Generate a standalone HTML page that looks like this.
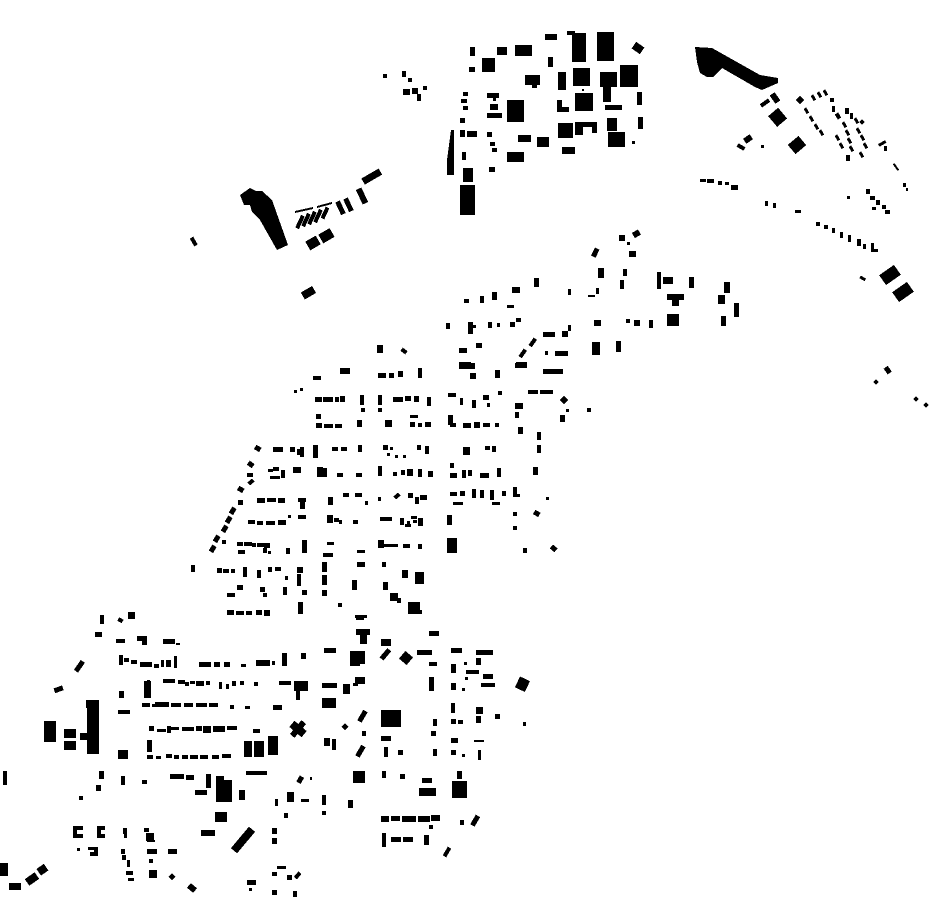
<!DOCTYPE html>
<html><head><meta charset="utf-8"><style>html,body{margin:0;padding:0;background:#fff}svg{display:block}</style></head>
<body>
<svg width="930" height="924" viewBox="0 0 930 924" xmlns="http://www.w3.org/2000/svg" fill="#000" shape-rendering="crispEdges">
<!-- Top-left industrial -->
<polygon points="240,195 250,188 256,191 262,191 272,200 288,245 277,250 260,220 252,212 250,205 244,205"/>
<polygon points="295,211 313,207 313,209 295,213"/><polygon points="317,206 332,202 332,204 317,208"/>
<g transform="rotate(25 300 222)"><rect x="298" y="215" width="4" height="14"/></g>
<g transform="rotate(25 306 220)"><rect x="304" y="213" width="4" height="14"/></g>
<g transform="rotate(25 312 218)"><rect x="310" y="211" width="4" height="14"/></g>
<g transform="rotate(25 318 216)"><rect x="316" y="209" width="4" height="14"/></g>
<g transform="rotate(25 325 213)"><rect x="323" y="207" width="4" height="12"/></g>
<g transform="rotate(-30 313 243)"><rect x="307" y="238" width="12" height="10"/></g>
<g transform="rotate(-30 326 236)"><rect x="320" y="231" width="13" height="10"/></g>
<g transform="rotate(-25 340 208)"><rect x="338" y="201" width="5" height="14"/></g>
<g transform="rotate(-25 348 205)"><rect x="346" y="198" width="5" height="14"/></g>
<g transform="rotate(-25 362 196)"><rect x="359" y="188" width="6" height="16"/></g>
<g transform="rotate(-30 372 177)"><rect x="362" y="173" width="20" height="7"/></g>
<g transform="rotate(-30 194 242)"><rect x="192" y="237" width="4" height="9"/></g>
<g transform="rotate(-30 308 293)"><rect x="302" y="289" width="13" height="8"/></g>
<rect x="383" y="74" width="4" height="4"/><rect x="402" y="71" width="4" height="6"/><rect x="408" y="78" width="4" height="4"/><rect x="403" y="89" width="7" height="6"/><rect x="412" y="88" width="6" height="6"/><rect x="417" y="94" width="4" height="7"/><rect x="423" y="86" width="4" height="4"/>
<!-- Top industrial cluster -->
<rect x="545" y="34" width="12" height="6"/><rect x="567" y="31" width="8" height="4"/><rect x="572" y="33" width="14" height="29"/><rect x="597" y="32" width="17" height="29"/>
<g transform="rotate(35 638 48)"><rect x="633" y="44" width="10" height="8"/></g>
<rect x="470" y="47" width="5" height="9"/><rect x="497" y="47" width="10" height="8"/><rect x="515" y="45" width="17" height="11"/><rect x="548" y="57" width="5" height="10"/><rect x="482" y="58" width="13" height="14"/><rect x="469" y="67" width="6" height="5"/>
<rect x="525" y="75" width="15" height="10"/><rect x="532" y="83" width="5" height="5"/><rect x="558" y="72" width="8" height="18"/><rect x="573" y="68" width="17" height="18"/><rect x="600" y="72" width="17" height="15"/><rect x="603" y="87" width="8" height="15"/><rect x="620" y="65" width="18" height="22"/><rect x="637" y="92" width="5" height="13"/><rect x="582" y="89" width="2" height="2"/>
<rect x="557" y="100" width="5" height="12"/><rect x="557" y="107" width="12" height="5"/><rect x="575" y="93" width="18" height="18"/><rect x="605" y="105" width="17" height="5"/>
<rect x="463" y="92" width="5" height="4"/><rect x="461" y="99" width="6" height="4"/><rect x="463" y="106" width="5" height="4"/><rect x="487" y="93" width="12" height="5"/><rect x="493" y="98" width="3" height="3"/><rect x="490" y="104" width="8" height="6"/><rect x="487" y="113" width="15" height="5"/><rect x="507" y="100" width="17" height="22"/><rect x="460" y="118" width="5" height="5"/>
<rect x="558" y="123" width="15" height="15"/><rect x="575" y="122" width="8" height="13"/><rect x="583" y="122" width="14" height="5"/><rect x="592" y="122" width="5" height="11"/><rect x="607" y="118" width="10" height="13"/><rect x="608" y="132" width="17" height="15"/><rect x="638" y="117" width="5" height="12"/><rect x="632" y="141" width="3" height="3"/>
<rect x="460" y="130" width="5" height="7"/><rect x="467" y="131" width="10" height="6"/><rect x="487" y="132" width="5" height="5"/><rect x="518" y="135" width="13" height="7"/><rect x="537" y="137" width="12" height="10"/><rect x="562" y="147" width="13" height="7"/><rect x="507" y="152" width="17" height="10"/><rect x="490" y="142" width="5" height="4"/><rect x="492" y="148" width="5" height="4"/>
<polygon points="451,130 454,130 454,175 447,175 447,160"/><rect x="462" y="152" width="4" height="8"/><rect x="489" y="167" width="6" height="5"/><rect x="463" y="168" width="10" height="14"/><rect x="460" y="185" width="15" height="30"/>
<!-- Top right -->
<polygon points="695,47 712,48 760,75 778,78 778,83 762,90 755,87 722,68 713,77 707,77 700,73 697,62"/>
<g transform="rotate(-35 765 103)"><rect x="760" y="101" width="10" height="4"/></g>
<g transform="rotate(-35 775 98)"><rect x="772" y="93" width="6" height="10"/></g>
<g transform="rotate(-40 778 117)"><rect x="771" y="110" width="13" height="14"/></g>
<g transform="rotate(-40 797 145)"><rect x="790" y="139" width="14" height="12"/></g>
<g transform="rotate(-35 748 139)"><rect x="744" y="136" width="8" height="6"/></g>
<g transform="rotate(-60 741 147)"><rect x="739" y="143" width="4" height="8"/></g>
<rect x="761" y="145" width="3" height="3"/>
<g transform="rotate(45 800 100)"><rect x="797" y="97" width="6" height="6"/></g>
<g id="dr">
<rect x="805" y="108" width="3" height="6" transform="rotate(-30 806 111)"/><rect x="810" y="116" width="3" height="6" transform="rotate(-30 811 119)"/><rect x="815" y="124" width="3" height="6" transform="rotate(-30 816 127)"/><rect x="820" y="130" width="3" height="6" transform="rotate(-30 821 133)"/>
<rect x="812" y="95" width="3" height="6" transform="rotate(-30 813 98)"/><rect x="818" y="92" width="3" height="6" transform="rotate(-30 819 95)"/><rect x="824" y="90" width="3" height="6" transform="rotate(-30 825 93)"/><rect x="830" y="98" width="4" height="4"/>
<rect x="832" y="106" width="3" height="6"/><rect x="836" y="113" width="4" height="6" transform="rotate(-30 838 116)"/><rect x="843" y="122" width="3" height="6" transform="rotate(-30 844 125)"/><rect x="846" y="130" width="3" height="6" transform="rotate(-30 847 133)"/><rect x="848" y="138" width="3" height="6" transform="rotate(-30 849 141)"/><rect x="850" y="146" width="3" height="6" transform="rotate(-30 851 149)"/><rect x="846" y="155" width="4" height="6"/>
<rect x="845" y="108" width="4" height="6"/><rect x="850" y="113" width="3" height="6"/><rect x="855" y="118" width="3" height="6" transform="rotate(-30 856 121)"/><rect x="857" y="128" width="3" height="6" transform="rotate(-30 858 131)"/><rect x="861" y="135" width="3" height="6" transform="rotate(-30 862 138)"/><rect x="864" y="143" width="3" height="6" transform="rotate(-30 865 146)"/><rect x="836" y="135" width="3" height="6" transform="rotate(-30 837 138)"/><rect x="840" y="143" width="3" height="6" transform="rotate(-30 841 146)"/><rect x="860" y="152" width="3" height="6" transform="rotate(-30 861 155)"/>
</g>
<rect x="860" y="120" width="4" height="4" transform="rotate(45 862 122)"/><rect x="878" y="142" width="8" height="3" transform="rotate(-30 882 143)"/><rect x="884" y="146" width="3" height="5"/><rect x="895" y="163" width="2" height="8" transform="rotate(-35 896 167)"/><rect x="903" y="183" width="3" height="4"/><rect x="906" y="188" width="2" height="3"/>
<rect x="700" y="179" width="6" height="3"/><rect x="707" y="179" width="7" height="4"/><rect x="718" y="181" width="4" height="4"/><rect x="725" y="182" width="4" height="3"/><rect x="731" y="185" width="7" height="5"/>
<rect x="765" y="201" width="3" height="5"/><rect x="773" y="203" width="3" height="5"/><rect x="795" y="210" width="6" height="3"/><rect x="816" y="222" width="4" height="4"/><rect x="824" y="225" width="4" height="4"/><rect x="832" y="228" width="3" height="5"/><rect x="840" y="232" width="3" height="6"/><rect x="848" y="235" width="3" height="7"/><rect x="857" y="239" width="4" height="7"/><rect x="863" y="244" width="3" height="5"/><rect x="871" y="243" width="3" height="9"/><rect x="871" y="249" width="7" height="3"/>
<rect x="847" y="196" width="3" height="3"/><rect x="866" y="189" width="4" height="5"/><rect x="870" y="196" width="5" height="4"/><rect x="876" y="200" width="4" height="5"/><rect x="882" y="205" width="4" height="4"/><rect x="885" y="210" width="5" height="4"/><rect x="872" y="207" width="4" height="3"/>
<g transform="rotate(-35 890 275)"><rect x="881" y="269" width="18" height="12"/></g>
<g transform="rotate(-35 903 292)"><rect x="894" y="286" width="18" height="12"/></g>
<rect x="860" y="277" width="6" height="3" transform="rotate(30 863 278)"/>
<rect x="885" y="367" width="5" height="7" transform="rotate(-35 887 370)"/><rect x="874" y="380" width="4" height="4" transform="rotate(45 876 382)"/><rect x="914" y="397" width="4" height="4" transform="rotate(45 916 399)"/><rect x="924" y="403" width="4" height="4" transform="rotate(45 926 405)"/>
<!-- mid-right scattered -->
<rect x="619" y="235" width="6" height="6"/><rect x="627" y="242" width="3" height="3"/><rect x="633" y="231" width="7" height="6" transform="rotate(-30 636 234)"/><rect x="593" y="248" width="5" height="9" transform="rotate(25 595 252)"/><rect x="629" y="251" width="7" height="6"/>
<rect x="598" y="268" width="6" height="10"/><rect x="623" y="269" width="4" height="7"/><rect x="620" y="280" width="4" height="9"/><rect x="657" y="272" width="4" height="17"/><rect x="663" y="277" width="10" height="7"/><rect x="689" y="277" width="5" height="11"/>
<rect x="667" y="294" width="17" height="6"/><rect x="672" y="300" width="7" height="6"/><rect x="667" y="314" width="12" height="12"/><rect x="724" y="282" width="6" height="11"/><rect x="718" y="295" width="7" height="9"/><rect x="734" y="303" width="5" height="14"/><rect x="721" y="316" width="5" height="10"/>
<rect x="534" y="278" width="5" height="9"/><rect x="512" y="287" width="8" height="6"/><rect x="492" y="292" width="5" height="8"/><rect x="480" y="296" width="4" height="7"/><rect x="464" y="299" width="5" height="4"/><rect x="507" y="305" width="7" height="3"/>
<rect x="568" y="289" width="3" height="6"/><rect x="596" y="288" width="3" height="6"/><rect x="588" y="295" width="7" height="2"/>
<rect x="446" y="323" width="4" height="6"/><rect x="468" y="322" width="5" height="12"/><rect x="468" y="325" width="8" height="3"/><rect x="488" y="322" width="4" height="6"/><rect x="497" y="323" width="3" height="4"/><rect x="510" y="322" width="5" height="5"/><rect x="516" y="318" width="5" height="4"/>
<rect x="594" y="320" width="7" height="6"/><rect x="626" y="319" width="4" height="4"/><rect x="634" y="320" width="6" height="6"/><rect x="649" y="320" width="4" height="8"/>
<rect x="543" y="332" width="12" height="5"/><rect x="562" y="331" width="6" height="6"/><rect x="568" y="325" width="3" height="6"/>
<rect x="531" y="338" width="4" height="9" transform="rotate(35 533 342)"/><rect x="521" y="349" width="4" height="9" transform="rotate(35 523 353)"/>
<rect x="459" y="348" width="8" height="5"/><rect x="476" y="343" width="6" height="5"/><rect x="545" y="351" width="3" height="4"/><rect x="555" y="351" width="13" height="5"/><rect x="592" y="342" width="8" height="13"/><rect x="616" y="341" width="5" height="11"/>
<rect x="459" y="362" width="12" height="3"/><rect x="516" y="362" width="11" height="3"/>
<!-- middle residential (zoom2) -->
<rect x="377" y="345" width="6" height="8"/><rect x="401" y="349" width="6" height="4" transform="rotate(35 404 351)"/>
<rect x="459" y="363" width="16" height="6"/><rect x="470" y="373" width="6" height="6"/><rect x="495" y="370" width="5" height="8"/><rect x="515" y="363" width="12" height="5"/><rect x="543" y="369" width="20" height="5"/>
<rect x="313" y="376" width="8" height="4"/><rect x="340" y="368" width="10" height="6"/><rect x="378" y="373" width="8" height="5"/><rect x="389" y="373" width="5" height="5"/><rect x="398" y="371" width="5" height="6"/><rect x="418" y="368" width="4" height="10"/>
<rect x="294" y="390" width="3" height="3"/><rect x="300" y="388" width="3" height="3"/>
<rect x="315" y="397" width="7" height="5"/><rect x="323" y="397" width="10" height="5"/><rect x="335" y="397" width="4" height="5"/><rect x="340" y="396" width="5" height="6"/><rect x="360" y="395" width="4" height="10"/><rect x="378" y="395" width="4" height="10"/><rect x="393" y="397" width="10" height="5"/><rect x="405" y="396" width="6" height="5"/><rect x="414" y="396" width="5" height="6"/><rect x="427" y="397" width="4" height="9"/>
<rect x="361" y="408" width="4" height="4"/><rect x="378" y="408" width="4" height="4"/>
<rect x="448" y="393" width="8" height="4"/><rect x="460" y="398" width="3" height="7"/><rect x="472" y="400" width="4" height="8"/><rect x="483" y="395" width="6" height="5"/><rect x="487" y="403" width="3" height="4"/><rect x="498" y="391" width="4" height="4"/>
<rect x="528" y="390" width="10" height="4"/><rect x="540" y="390" width="13" height="4"/><rect x="561" y="397" width="6" height="6" transform="rotate(45 564 400)"/><rect x="566" y="409" width="3" height="3"/><rect x="587" y="408" width="4" height="4"/><rect x="515" y="403" width="8" height="6"/>
<rect x="316" y="414" width="5" height="5"/><rect x="316" y="423" width="6" height="5"/><rect x="324" y="424" width="9" height="4"/><rect x="335" y="424" width="7" height="4"/><rect x="357" y="420" width="5" height="7"/><rect x="385" y="420" width="7" height="7"/><rect x="410" y="415" width="8" height="3"/><rect x="410" y="422" width="5" height="5"/><rect x="418" y="423" width="4" height="4"/><rect x="425" y="422" width="6" height="5"/>
<rect x="448" y="415" width="5" height="10"/><rect x="450" y="423" width="6" height="4"/><rect x="463" y="423" width="8" height="5"/><rect x="474" y="422" width="6" height="6"/><rect x="483" y="423" width="7" height="4"/><rect x="495" y="423" width="4" height="4"/>
<rect x="515" y="412" width="4" height="6"/><rect x="518" y="427" width="5" height="7"/><rect x="537" y="432" width="4" height="8"/><rect x="537" y="445" width="4" height="8"/><rect x="533" y="467" width="5" height="8"/><rect x="560" y="415" width="5" height="7"/>
<rect x="255" y="446" width="6" height="5" transform="rotate(30 258 448)"/><rect x="273" y="447" width="10" height="5"/><rect x="290" y="447" width="5" height="5"/><rect x="297" y="449" width="6" height="6"/><rect x="300" y="447" width="4" height="10"/><rect x="313" y="445" width="5" height="13"/><rect x="332" y="447" width="6" height="4"/><rect x="341" y="447" width="6" height="4"/><rect x="358" y="445" width="4" height="7"/>
<rect x="383" y="445" width="5" height="5"/><rect x="387" y="453" width="3" height="3"/><rect x="395" y="455" width="3" height="3"/><rect x="403" y="455" width="3" height="3"/><rect x="390" y="447" width="3" height="3"/><rect x="417" y="445" width="4" height="5"/><rect x="425" y="446" width="4" height="8"/>
<rect x="463" y="447" width="3" height="8"/><rect x="466" y="447" width="4" height="8"/><rect x="485" y="446" width="5" height="4"/><rect x="492" y="446" width="4" height="6"/>
<rect x="247" y="473" width="6" height="4"/><rect x="248" y="462" width="6" height="5" transform="rotate(35 251 464)"/><rect x="268" y="469" width="5" height="3"/><rect x="273" y="467" width="6" height="4"/><rect x="270" y="476" width="10" height="3"/><rect x="281" y="470" width="4" height="8"/><rect x="293" y="467" width="8" height="6"/><rect x="317" y="467" width="6" height="10"/><rect x="323" y="468" width="4" height="9"/><rect x="337" y="473" width="6" height="4"/><rect x="356" y="473" width="6" height="4"/>
<rect x="378" y="466" width="4" height="10"/><rect x="393" y="472" width="4" height="4"/><rect x="401" y="470" width="4" height="5"/><rect x="407" y="469" width="6" height="7"/><rect x="418" y="469" width="4" height="8"/><rect x="428" y="471" width="5" height="6"/>
<rect x="450" y="463" width="4" height="5"/><rect x="450" y="473" width="7" height="5"/><rect x="462" y="470" width="4" height="8"/><rect x="468" y="470" width="4" height="6"/><rect x="480" y="473" width="9" height="5"/><rect x="497" y="468" width="4" height="9"/>
<rect x="238" y="487" width="6" height="5" transform="rotate(30 241 489)"/><rect x="257" y="498" width="8" height="5"/><rect x="267" y="498" width="9" height="4"/><rect x="278" y="498" width="7" height="5"/><rect x="298" y="498" width="8" height="4"/><rect x="300" y="502" width="5" height="7"/><rect x="328" y="497" width="5" height="8"/><rect x="343" y="493" width="6" height="4"/><rect x="355" y="493" width="7" height="4"/><rect x="365" y="501" width="3" height="4"/><rect x="378" y="497" width="3" height="4"/><rect x="394" y="494" width="6" height="4" transform="rotate(-40 397 496)"/><rect x="408" y="493" width="5" height="5"/><rect x="415" y="497" width="4" height="7"/><rect x="420" y="495" width="7" height="5"/>
<rect x="450" y="492" width="7" height="4"/><rect x="460" y="491" width="5" height="5"/><rect x="472" y="489" width="4" height="9"/><rect x="480" y="490" width="4" height="8"/><rect x="490" y="490" width="4" height="10"/><rect x="502" y="491" width="4" height="5"/><rect x="453" y="502" width="10" height="3"/><rect x="492" y="502" width="8" height="3"/><rect x="513" y="487" width="4" height="10"/><rect x="513" y="494" width="7" height="3"/><rect x="546" y="497" width="3" height="3"/>
<rect x="248" y="520" width="7" height="4"/><rect x="257" y="521" width="6" height="4"/><rect x="266" y="521" width="9" height="4"/><rect x="278" y="520" width="8" height="5"/><rect x="288" y="515" width="3" height="3"/><rect x="298" y="515" width="8" height="4"/><rect x="327" y="515" width="6" height="8"/><rect x="334" y="518" width="5" height="4"/><rect x="339" y="520" width="3" height="4"/><rect x="353" y="520" width="5" height="4"/><rect x="380" y="517" width="12" height="4"/><rect x="400" y="518" width="4" height="7"/><rect x="407" y="521" width="3" height="3"/><rect x="411" y="516" width="6" height="3"/><rect x="413" y="520" width="4" height="3"/><rect x="418" y="518" width="5" height="8"/><rect x="405" y="524" width="6" height="3"/><rect x="447" y="515" width="5" height="10"/>
<rect x="513" y="512" width="4" height="4"/><rect x="513" y="526" width="4" height="4"/><rect x="534" y="511" width="6" height="5" transform="rotate(30 537 513)"/>
<rect x="237" y="542" width="6" height="4"/><rect x="244" y="542" width="8" height="4"/><rect x="252" y="543" width="4" height="4"/><rect x="257" y="543" width="7" height="4"/><rect x="264" y="543" width="6" height="5"/><rect x="238" y="550" width="7" height="4"/><rect x="263" y="548" width="4" height="5"/><rect x="268" y="551" width="3" height="3"/><rect x="286" y="548" width="4" height="6"/><rect x="302" y="540" width="5" height="13"/><rect x="327" y="542" width="7" height="3"/><rect x="323" y="553" width="10" height="4"/><rect x="357" y="550" width="8" height="3"/><rect x="378" y="540" width="6" height="8"/><rect x="384" y="544" width="14" height="3"/><rect x="403" y="544" width="7" height="4"/><rect x="418" y="544" width="4" height="5"/><rect x="447" y="538" width="10" height="15"/><rect x="523" y="548" width="4" height="5"/><rect x="551" y="546" width="6" height="5" transform="rotate(40 554 548)"/>
<rect x="209" y="547" width="7" height="5" transform="rotate(-60 212 549)"/><rect x="213" y="537" width="7" height="5" transform="rotate(-60 216 539)"/><rect x="221" y="527" width="7" height="5" transform="rotate(-60 224 529)"/><rect x="225" y="518" width="7" height="5" transform="rotate(-60 228 520)"/><rect x="229" y="509" width="7" height="5" transform="rotate(-60 232 511)"/><rect x="238" y="500" width="5" height="5"/><rect x="222" y="540" width="4" height="4"/><rect x="248" y="480" width="6" height="4" transform="rotate(-40 251 482)"/>
<rect x="191" y="565" width="4" height="7"/><rect x="217" y="568" width="5" height="5"/><rect x="223" y="569" width="6" height="4"/><rect x="231" y="569" width="4" height="4"/><rect x="243" y="567" width="4" height="10"/><rect x="257" y="570" width="4" height="8"/><rect x="268" y="567" width="4" height="5"/><rect x="275" y="567" width="6" height="4"/><rect x="285" y="576" width="3" height="4"/><rect x="297" y="567" width="6" height="6"/><rect x="297" y="574" width="4" height="12"/><rect x="322" y="562" width="5" height="10"/><rect x="322" y="575" width="5" height="10"/><rect x="322" y="590" width="5" height="6"/><rect x="352" y="580" width="5" height="10"/><rect x="357" y="562" width="8" height="5"/><rect x="382" y="562" width="4" height="5"/><rect x="383" y="582" width="5" height="8"/><rect x="402" y="570" width="6" height="8"/><rect x="415" y="572" width="9" height="12"/><rect x="390" y="593" width="8" height="8"/><rect x="397" y="598" width="4" height="5"/><rect x="408" y="602" width="12" height="12"/>
<rect x="227" y="593" width="8" height="4"/><rect x="237" y="585" width="6" height="5"/><rect x="260" y="587" width="5" height="5"/><rect x="263" y="593" width="4" height="4"/><rect x="283" y="587" width="4" height="8"/><rect x="302" y="590" width="5" height="5"/><rect x="298" y="602" width="5" height="12"/><rect x="227" y="610" width="7" height="5"/><rect x="236" y="611" width="8" height="4"/><rect x="246" y="611" width="6" height="4"/><rect x="256" y="610" width="6" height="5"/><rect x="264" y="610" width="6" height="6"/><rect x="338" y="603" width="4" height="4"/><rect x="355" y="615" width="12" height="3"/>
<!-- Lower region (zoom3) -->
<rect x="100" y="615" width="4" height="9"/><rect x="118" y="618" width="5" height="4" transform="rotate(30 120 620)"/><rect x="128" y="612" width="7" height="7"/>
<rect x="95" y="632" width="7" height="5"/><rect x="116" y="639" width="9" height="4"/><rect x="137" y="636" width="10" height="5"/><rect x="142" y="640" width="5" height="5"/><rect x="163" y="639" width="12" height="5"/><rect x="176" y="643" width="4" height="2"/>
<rect x="356" y="617" width="8" height="3"/><rect x="356" y="629" width="14" height="6"/><rect x="360" y="629" width="7" height="15"/><rect x="410" y="610" width="12" height="4"/><rect x="429" y="631" width="10" height="5"/>
<rect x="77" y="660" width="5" height="12" transform="rotate(35 79 666)"/>
<rect x="119" y="655" width="4" height="10"/><rect x="124" y="658" width="5" height="4"/><rect x="131" y="660" width="6" height="4"/><rect x="140" y="662" width="12" height="5"/><rect x="154" y="664" width="5" height="4"/><rect x="161" y="660" width="3" height="7"/><rect x="166" y="660" width="5" height="7"/><rect x="174" y="656" width="3" height="12"/>
<rect x="199" y="662" width="12" height="5"/><rect x="214" y="662" width="6" height="5"/><rect x="224" y="662" width="6" height="5"/><rect x="241" y="664" width="5" height="3"/><rect x="256" y="660" width="14" height="6"/><rect x="272" y="661" width="3" height="4"/><rect x="282" y="653" width="5" height="13"/><rect x="301" y="653" width="5" height="6"/>
<rect x="324" y="648" width="12" height="5"/><rect x="350" y="651" width="10" height="15"/><rect x="350" y="651" width="15" height="13"/><rect x="381" y="639" width="10" height="7"/><rect x="383" y="648" width="5" height="12" transform="rotate(40 385 654)"/><rect x="401" y="653" width="10" height="10" transform="rotate(40 406 658)"/><rect x="417" y="650" width="15" height="5"/><rect x="429" y="662" width="8" height="4"/><rect x="429" y="677" width="5" height="14"/><rect x="355" y="677" width="10" height="7"/><rect x="353" y="683" width="5" height="3"/>
<rect x="451" y="648" width="11" height="5"/><rect x="451" y="664" width="5" height="9"/><rect x="464" y="662" width="3" height="3"/><rect x="466" y="670" width="13" height="4"/><rect x="476" y="650" width="17" height="5"/><rect x="476" y="658" width="5" height="7"/><rect x="483" y="674" width="10" height="5"/><rect x="465" y="677" width="3" height="3"/><rect x="481" y="683" width="14" height="4"/><rect x="451" y="683" width="5" height="7"/><rect x="462" y="688" width="3" height="3"/>
<rect x="517" y="678" width="11" height="12" transform="rotate(25 522 684)"/>
<rect x="54" y="687" width="9" height="5" transform="rotate(-20 58 689)"/>
<rect x="87" y="700" width="12" height="54"/><rect x="86" y="700" width="3" height="8"/><rect x="44" y="721" width="12" height="21"/><rect x="64" y="729" width="12" height="9"/><rect x="64" y="741" width="12" height="9"/><rect x="80" y="733" width="8" height="7"/>
<rect x="118" y="710" width="12" height="4"/><rect x="142" y="703" width="8" height="4"/><rect x="152" y="704" width="5" height="3"/><rect x="155" y="702" width="14" height="5"/><rect x="171" y="703" width="10" height="4"/><rect x="184" y="703" width="9" height="4"/><rect x="196" y="703" width="11" height="4"/><rect x="209" y="703" width="9" height="4"/><rect x="230" y="705" width="4" height="4"/><rect x="245" y="706" width="5" height="3"/><rect x="273" y="705" width="9" height="5"/>
<rect x="119" y="691" width="5" height="7"/><rect x="144" y="681" width="7" height="17"/><rect x="147" y="680" width="3" height="2"/><rect x="163" y="679" width="12" height="4"/><rect x="178" y="680" width="7" height="4"/><rect x="185" y="682" width="4" height="4"/><rect x="190" y="681" width="5" height="3"/><rect x="196" y="681" width="8" height="5"/><rect x="206" y="681" width="4" height="4"/><rect x="219" y="682" width="3" height="7"/><rect x="226" y="684" width="3" height="5"/><rect x="232" y="681" width="4" height="5"/><rect x="240" y="681" width="4" height="4"/><rect x="254" y="682" width="4" height="4"/><rect x="279" y="681" width="12" height="4"/><rect x="294" y="681" width="14" height="10"/><rect x="296" y="690" width="4" height="10"/>
<rect x="322" y="683" width="15" height="5"/><rect x="322" y="698" width="14" height="10"/><rect x="343" y="684" width="7" height="10"/>
<rect x="149" y="726" width="5" height="5"/><rect x="157" y="729" width="9" height="3"/><rect x="167" y="726" width="4" height="7"/><rect x="171" y="727" width="8" height="3"/><rect x="182" y="727" width="7" height="4"/><rect x="189" y="727" width="5" height="4"/><rect x="196" y="726" width="6" height="5"/><rect x="203" y="726" width="8" height="7"/><rect x="213" y="726" width="12" height="6"/><rect x="227" y="726" width="10" height="4"/><rect x="253" y="729" width="7" height="4"/>
<g transform="rotate(40 298 729)"><rect x="290" y="725" width="16" height="8"/><rect x="295" y="720" width="6" height="18"/></g>
<rect x="360" y="710" width="5" height="12" transform="rotate(30 362 716)"/><rect x="343" y="724" width="5" height="5" transform="rotate(45 345 726)"/><rect x="362" y="731" width="4" height="5"/><rect x="358" y="745" width="5" height="12" transform="rotate(30 360 751)"/><rect x="324" y="738" width="6" height="8"/><rect x="332" y="739" width="4" height="11"/>
<rect x="381" y="710" width="20" height="17"/><rect x="381" y="736" width="10" height="5"/><rect x="384" y="747" width="4" height="10"/><rect x="398" y="750" width="5" height="5"/>
<rect x="433" y="719" width="4" height="7"/><rect x="431" y="731" width="5" height="5"/><rect x="433" y="749" width="4" height="7"/>
<rect x="451" y="703" width="4" height="10"/><rect x="451" y="719" width="5" height="5"/><rect x="458" y="720" width="5" height="4"/><rect x="476" y="707" width="7" height="7"/><rect x="476" y="716" width="5" height="7"/><rect x="495" y="714" width="5" height="5"/><rect x="451" y="738" width="7" height="5"/><rect x="474" y="740" width="10" height="2"/><rect x="478" y="750" width="3" height="10"/><rect x="451" y="750" width="5" height="5"/><rect x="462" y="754" width="3" height="3"/><rect x="523" y="722" width="3" height="4"/>
<rect x="118" y="750" width="10" height="9"/><rect x="147" y="740" width="5" height="12"/><rect x="147" y="755" width="6" height="4"/><rect x="156" y="756" width="5" height="3"/><rect x="166" y="754" width="6" height="4"/><rect x="174" y="755" width="5" height="4"/><rect x="182" y="755" width="6" height="4"/><rect x="190" y="755" width="8" height="4"/><rect x="200" y="755" width="8" height="4"/><rect x="212" y="755" width="7" height="4"/><rect x="222" y="754" width="9" height="4"/><rect x="244" y="741" width="8" height="16"/><rect x="254" y="741" width="10" height="16"/><rect x="268" y="736" width="10" height="19"/>
<rect x="3" y="771" width="4" height="14"/><rect x="99" y="771" width="5" height="8"/><rect x="96" y="785" width="5" height="6"/><rect x="79" y="796" width="4" height="4"/><rect x="121" y="776" width="4" height="9"/><rect x="142" y="780" width="5" height="4"/><rect x="170" y="774" width="14" height="5"/><rect x="186" y="775" width="8" height="5"/><rect x="206" y="774" width="5" height="14"/><rect x="195" y="790" width="12" height="5"/><rect x="216" y="776" width="8" height="26"/><rect x="222" y="780" width="10" height="22"/><rect x="239" y="790" width="6" height="10"/>
<rect x="246" y="771" width="21" height="4"/><rect x="298" y="776" width="5" height="7" transform="rotate(30 300 779)"/><rect x="310" y="777" width="2" height="3"/><rect x="287" y="792" width="7" height="10"/><rect x="301" y="799" width="8" height="3"/><rect x="322" y="795" width="4" height="10"/><rect x="322" y="811" width="4" height="4"/><rect x="348" y="800" width="5" height="8"/><rect x="275" y="799" width="3" height="7"/><rect x="284" y="813" width="4" height="5"/>
<rect x="353" y="771" width="12" height="12"/><rect x="382" y="771" width="4" height="7"/><rect x="400" y="774" width="5" height="5"/>
<rect x="422" y="778" width="10" height="5"/><rect x="419" y="788" width="17" height="8"/><rect x="452" y="781" width="15" height="17"/><rect x="457" y="771" width="5" height="8"/>
<rect x="381" y="816" width="8" height="6"/><rect x="391" y="816" width="9" height="5"/><rect x="402" y="816" width="14" height="6"/><rect x="418" y="816" width="12" height="6"/><rect x="431" y="815" width="9" height="6"/><rect x="429" y="825" width="4" height="4"/><rect x="460" y="820" width="4" height="5"/><rect x="473" y="815" width="5" height="11" transform="rotate(30 475 820)"/>
<rect x="382" y="833" width="4" height="14"/><rect x="391" y="837" width="10" height="5"/><rect x="403" y="837" width="10" height="5"/><rect x="424" y="835" width="5" height="10"/><rect x="445" y="847" width="4" height="10" transform="rotate(30 447 852)"/>
<rect x="215" y="812" width="12" height="10"/><rect x="201" y="830" width="14" height="6"/><g transform="rotate(-50 243 840)"><rect x="229" y="836" width="28" height="8"/></g><rect x="272" y="828" width="5" height="6"/><rect x="272" y="838" width="5" height="6"/>
<path d="M73,826h10v4h-6v4h6v4h-10z"/><path d="M97,826h8v4h-4v4h4v4h-8z"/><path d="M88,847h10v9h-8v-4h4v-2h-6z"/><rect x="77" y="848" width="3" height="3"/>
<rect x="123" y="828" width="4" height="6"/><rect x="124" y="834" width="3" height="4"/><rect x="144" y="828" width="5" height="4"/><rect x="146" y="833" width="8" height="8"/><rect x="147" y="840" width="8" height="2"/><rect x="121" y="849" width="4" height="5"/><rect x="122" y="855" width="4" height="5"/><rect x="127" y="860" width="3" height="7"/><rect x="147" y="849" width="10" height="5"/><rect x="168" y="849" width="9" height="5"/><rect x="149" y="859" width="4" height="4"/><rect x="149" y="870" width="8" height="8"/><rect x="126" y="871" width="7" height="4"/><rect x="128" y="878" width="6" height="3"/><rect x="170" y="874" width="5" height="5" transform="rotate(45 172 876)"/>
<rect x="0" y="863" width="8" height="13"/><rect x="9" y="883" width="12" height="7"/><rect x="26" y="875" width="12" height="8" transform="rotate(-35 32 879)"/><rect x="38" y="866" width="9" height="8" transform="rotate(-35 42 870)"/>
<rect x="188" y="885" width="8" height="6" transform="rotate(40 192 888)"/>
<rect x="247" y="880" width="9" height="5"/><rect x="249" y="888" width="3" height="3"/><rect x="272" y="872" width="5" height="4"/><rect x="277" y="866" width="9" height="3"/><rect x="287" y="875" width="5" height="5"/><rect x="296" y="872" width="4" height="7" transform="rotate(40 298 875)"/><rect x="272" y="890" width="5" height="5"/><rect x="293" y="891" width="4" height="6"/>
</svg>
</body></html>
